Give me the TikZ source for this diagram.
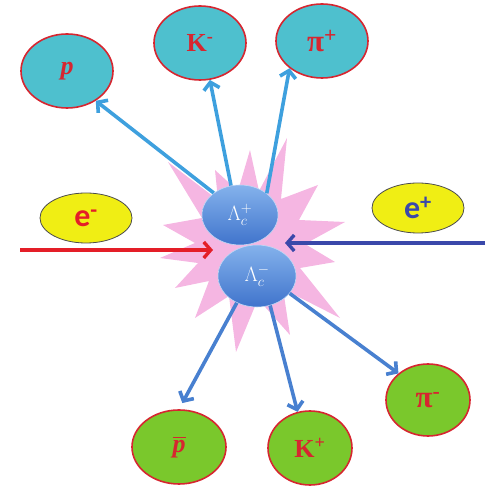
\documentclass[tikz,border=0pt]{standalone}
\usepackage{amsmath,bm}
\usepackage{fontspec}
\setmainfont{Liberation Serif}
\newfontfamily\calib{Carlito}
\usetikzlibrary{arrows.meta,shapes.geometric,backgrounds}
\definecolor{hadcyan}{RGB}{78,192,206}
\definecolor{hadgreen}{RGB}{122,200,44}
\definecolor{beamyel}{RGB}{240,238,20}
\definecolor{rimred}{RGB}{214,38,48}
\definecolor{trackblue}{RGB}{62,160,222}
\definecolor{trackdeep}{RGB}{72,128,208}
\definecolor{posblue}{RGB}{58,72,170}
\definecolor{elecred}{RGB}{228,30,40}
\definecolor{burstpink}{RGB}{245,182,226}
\definecolor{lamtop}{RGB}{132,178,236}
\definecolor{lambot}{RGB}{64,116,204}

\begin{document}
\begin{tikzpicture}[
  x=1pt, y=-1pt,
  >={Straight Barb[length=7pt,width=16pt]},
  hadron/.style={ellipse, draw=rimred, line width=1.6pt, inner sep=0pt, text=rimred,
                 font=\fontsize{26}{28}\selectfont\bfseries,
                 minimum width=92pt, minimum height=74pt},
  cyanhad/.style={hadron, fill=hadcyan},
  greenhad/.style={hadron, fill=hadgreen},
  pion/.style={font=\fontsize{31}{33}\selectfont\bfseries},
  beam/.style={ellipse, draw=black!70, line width=0.8pt, fill=beamyel, inner sep=0pt,
               font=\calib\fontsize{32}{34}\selectfont\bfseries,
               minimum width=92pt, minimum height=50pt},
  lam/.style={ellipse, draw=lamtop!50!white, line width=0.6pt, top color=lamtop,
              bottom color=lambot, text=white, inner sep=0pt,
              font=\fontsize{22}{24}\selectfont, minimum width=76pt, minimum height=60pt},
  track/.style={->, line width=3.6pt, draw=trackblue},
]
\useasboundingbox (0,0) rectangle (491,486);

% ---- charmed baryon pair ----
\node[lam] (lcp) at (240,215) {$\Lambda_c^{+}$};
\node[lam, minimum width=78pt, minimum height=62pt] (lcm) at (257,276) {$\Lambda_c^{-}$};

% ---- annihilation flash ----
\begin{scope}[on background layer]
  \fill[burstpink] (287,138) -- (281,199) -- (318,185) -- (299,220) -- (345,222)
    -- (305,244) -- (335,262) -- (300,268) -- (340,318) -- (283,289) -- (290,335)
    -- (258,299) -- (236,352) -- (229,296) -- (195,318) -- (209,281) -- (175,288)
    -- (198,263) -- (160,258) -- (195,243) -- (163,225) -- (202,218) -- (168,162)
    -- (218,200) -- (215,170) -- (238,191) -- (250,150) -- (259,191) -- cycle;
\end{scope}

% ---- decay products ----
\node[cyanhad] (p) at (67,71) {\textit{p}};
\node[cyanhad] (km) at (200,43) {K\textsuperscript{-}};
\node[cyanhad, pion] (pip) at (322,41) {π\textsuperscript{+}};
\node[greenhad, minimum width=94pt] (pbar) at (179,447) {$\overline{\hbox{\textit{p}}}$};
\node[greenhad, minimum width=84pt] (kp) at (310,448) {K\textsuperscript{+}};
\node[greenhad, pion, minimum width=84pt, minimum height=72pt] (pim) at (428,400) {π\textsuperscript{-}};

% ---- beams ----
\node[beam, text=elecred] (em) at (86,218) {e\textsuperscript{-}};
\node[beam, text=posblue] (ep) at (418,208) {e\textsuperscript{+}};
\coordinate (einl) at (20,250);
\coordinate (einr) at (213,250);
\coordinate (pinr) at (485,243);
\coordinate (pinl) at (285,243);
\draw[->, line width=3.4pt, draw=elecred] (einl) -- (einr);
\draw[->, line width=3.4pt, draw=posblue] (pinr) -- (pinl);

% ---- tracks ----
\draw[track] (lcp.140) -- (p.314);
\draw[track] (lcp.107) -- (km.285);
\draw[track] (lcp.39) -- (pip.220);
\draw[track, draw=trackdeep, shorten >=7pt] (lcm.233) -- (pbar.north);
\draw[track, draw=trackdeep] (lcm.294) -- (kp.109);
\draw[track, draw=trackdeep] (lcm.332) -- (pim.138);

\end{tikzpicture}
\end{document}
